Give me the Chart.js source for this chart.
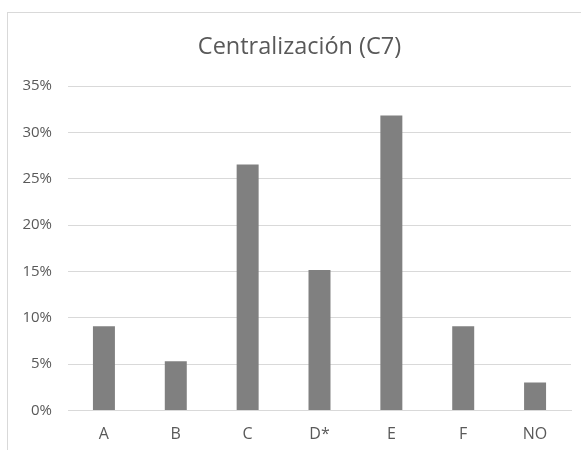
<!DOCTYPE html>
<html>
<head>
<meta charset="utf-8">
<script src="https://cdn.jsdelivr.net/npm/chart.js@4/dist/chart.umd.min.js"></script>
<style>
  html, body { margin: 0; padding: 0; background: #ffffff; }
  #wrap { position: relative; width: 581px; height: 450px; overflow: hidden; }
  #frame { position: absolute; left: 7px; top: 12px; width: 620px; height: 500px;
           border: 1px solid #d9d9d9; box-sizing: border-box; }
  #c { position: absolute; left: 0; top: 0; }
</style>
</head>
<body>
<div id="wrap">
  <div id="frame"></div>
  <canvas id="c" width="581" height="450"></canvas>
</div>
<script>
// Categories and shares (percent of responses)
const categories = ['A', 'B', 'C', 'D*', 'E', 'F', 'NO'];
const shares = [9.09, 5.30, 26.52, 15.15, 31.82, 9.09, 3.03];
const yTicks = [0, 5, 10, 15, 20, 25, 30, 35];
const chartTitle = 'Centralización (C7)';

const FONT = "'Open Sans', 'Liberation Sans', sans-serif";
const TEXT = '#595959';
const GRID = '#d9d9d9';

// Title centred over the frame area (from the frame's inner left edge to the plot's right edge)
const frameTitle = {
  id: 'frameTitle',
  afterDraw(chart) {
    const { ctx, chartArea } = chart;
    ctx.save();
    ctx.font = `normal 23.5px ${FONT}`;
    ctx.fillStyle = TEXT;
    ctx.textAlign = 'center';
    ctx.textBaseline = 'alphabetic';
    ctx.fillText(chartTitle, (28 + chartArea.right) / 2, chartArea.top - 31.7);
    ctx.restore();
  }
};

new Chart(document.getElementById('c'), {
  type: 'bar',
  data: {
    labels: categories,
    datasets: [{
      data: shares,
      backgroundColor: '#808080',
      borderWidth: 0,
      barPercentage: 1,
      categoryPercentage: 0.306
    }]
  },
  options: {
    responsive: false,
    animation: false,
    layout: { padding: { left: 0, right: 10, top: 86, bottom: 0 } },
    plugins: {
      legend: { display: false },
      tooltip: { enabled: false },
      title: { display: false }
    },
    scales: {
      x: {
        grid: { display: false, drawTicks: false },
        border: { display: true, color: GRID, width: 1 },
        ticks: { color: TEXT, font: { family: FONT, size: 16 }, padding: 14 },
        afterFit: (s) => { s.height = 39.5; }
      },
      y: {
        min: 0,
        max: 35,
        afterBuildTicks: (s) => { s.ticks = yTicks.map(v => ({ value: v })); },
        grid: { color: GRID, lineWidth: 1, drawTicks: false },
        border: { display: false },
        ticks: {
          color: TEXT,
          font: { family: FONT, size: 15 },
          padding: 16,
          callback: (v) => v + '%'
        },
        afterFit: (s) => { s.width = 68; }
      }
    }
  },
  plugins: [frameTitle]
});
</script>
</body>
</html>
